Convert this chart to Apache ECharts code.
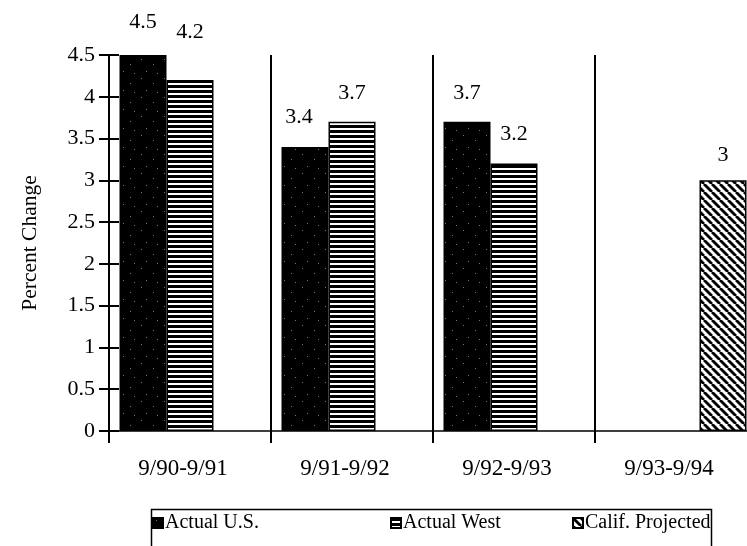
<!DOCTYPE html>
<html>
<head>
<meta charset="utf-8">
<script src="https://cdn.jsdelivr.net/npm/echarts@6/dist/echarts.min.js"></script>
<style>
  html, body { margin: 0; padding: 0; background: #fff; }
  #chart { width: 747px; height: 546px; }
</style>
</head>
<body>
<div id="chart"></div>
<script>
// Year-over-year percent change, by period
const categories = ['9/90-9/91', '9/91-9/92', '9/92-9/93', '9/93-9/94'];
const actualUS = [4.5, 3.4, 3.7, null];
const actualWest = [4.2, 3.7, 3.2, null];
const califProjected = [null, null, null, 3];
const seriesNames = ['Actual U.S.', 'Actual West', 'Calif. Projected'];
const yMin = 0, yMax = 4.5, yStep = 0.5;

const FONT = 'Liberation Serif';

// Fill patterns for the bars
function makePattern(w, h, paint) {
  const c = document.createElement('canvas');
  c.width = w; c.height = h;
  const ctx = c.getContext('2d');
  paint(ctx, w, h);
  return { image: c, repeat: 'repeat' };
}
// near-solid black stipple with a few faint specks
const stipple = makePattern(23, 19, (ctx, w, h) => {
  ctx.fillStyle = '#000'; ctx.fillRect(0, 0, w, h);
  ctx.fillStyle = '#777';
  [[3, 2], [15, 7], [8, 14], [19, 16]].forEach(p => ctx.fillRect(p[0], p[1], 1, 1));
});
// horizontal rules
const hStripes = makePattern(8, 5, (ctx, w, h) => {
  ctx.fillStyle = '#fff'; ctx.fillRect(0, 0, w, h);
  ctx.fillStyle = '#000'; ctx.fillRect(0, 0, w, 3);
});
// diagonal hatching (top-left to bottom-right)
const diagStripes = makePattern(8, 8, (ctx, w, h) => {
  ctx.fillStyle = '#fff'; ctx.fillRect(0, 0, w, h);
  ctx.strokeStyle = '#000'; ctx.lineWidth = 2.8;
  for (let o = -w; o <= w; o += w) {
    ctx.beginPath(); ctx.moveTo(o, 0); ctx.lineTo(o + w, h); ctx.stroke();
  }
});

// value-label placement tweaks: [seriesIndex, categoryIndex] -> distance / x shift
const labelTweaks = {
  '0-0': { distance: 22 },
  '1-0': { distance: 37 },
  '0-1': { distance: 19, offset: [-6, 0] },
  '2-3': { distance: 14 }
};

function buildData(values, sIdx) {
  return values.map((v, i) => {
    const t = labelTweaks[sIdx + '-' + i];
    if (v == null || !t) return v;
    return { value: v, label: Object.assign({}, t) };
  });
}

const fills = [stipple, hStripes, diagStripes];
const valueSets = [actualUS, actualWest, califProjected];

const series = valueSets.map((vals, s) => ({
  name: seriesNames[s],
  type: 'bar',
  data: buildData(vals, s),
  barWidth: 47,
  barGap: '0%',
  itemStyle: { color: fills[s], borderColor: '#000', borderWidth: 1.5 },
  label: {
    show: true,
    position: 'top',
    distance: 18,
    color: '#000',
    fontFamily: FONT,
    fontSize: 22
  },
  emphasis: { disabled: true }
}));

const legendLefts = [152, 390, 572];
const legends = seriesNames.map((n, i) => ({
  data: [n],
  left: legendLefts[i],
  top: 513,
  icon: 'rect',
  itemWidth: 10,
  itemHeight: 10,
  itemGap: 0,
  padding: 0,
  selectedMode: false,
  textStyle: { fontFamily: FONT, fontSize: 20, color: '#000', padding: [0, 0, 0, -3] }
}));

const chart = echarts.init(document.getElementById('chart'), null, { renderer: 'canvas' });
chart.setOption({
  animation: false,
  backgroundColor: '#fff',
  grid: { left: 109, top: 55, width: 648, height: 376, outerBoundsMode: 'none', containLabel: false },
  legend: legends,
  xAxis: {
    type: 'category',
    data: categories,
    boundaryGap: true,
    axisLine: { lineStyle: { color: '#000', width: 1.5 } },
    axisTick: { show: true, interval: 0, length: 12, lineStyle: { color: '#000', width: 2 } },
    splitLine: { show: true, interval: 0, lineStyle: { color: '#000', width: 2 } },
    axisLabel: {
      interval: 0, margin: 26, color: '#000', fontFamily: FONT, fontSize: 23,
      padding: [0, 14, 0, 0]
    }
  },
  yAxis: [
    {
      type: 'value', min: yMin, max: yMax, interval: yStep,
      name: 'Percent Change',
      nameLocation: 'middle',
      nameGap: 68,
      nameRotate: 90,
      nameTextStyle: { fontFamily: FONT, fontSize: 21.5, color: '#000' },
      axisLine: { show: true, lineStyle: { color: '#000', width: 2 } },
      axisTick: { show: true, length: 10, lineStyle: { color: '#000', width: 2 } },
      splitLine: { show: false },
      axisLabel: { margin: 14, color: '#000', fontFamily: FONT, fontSize: 22 }
    },
    {
      type: 'value', min: yMin, max: yMax, interval: yStep,
      position: 'left',
      axisLine: { show: false },
      axisTick: { show: true, inside: true, length: 10, lineStyle: { color: '#000', width: 2 } },
      splitLine: { show: false },
      axisLabel: { show: false }
    }
  ],
  graphic: [{
    type: 'rect',
    left: 149, top: 507,
    shape: { width: 560, height: 60 },
    style: { fill: 'none', stroke: '#000', lineWidth: 1.5 },
    z: 10
  }],
  series: series
});
</script>
</body>
</html>
